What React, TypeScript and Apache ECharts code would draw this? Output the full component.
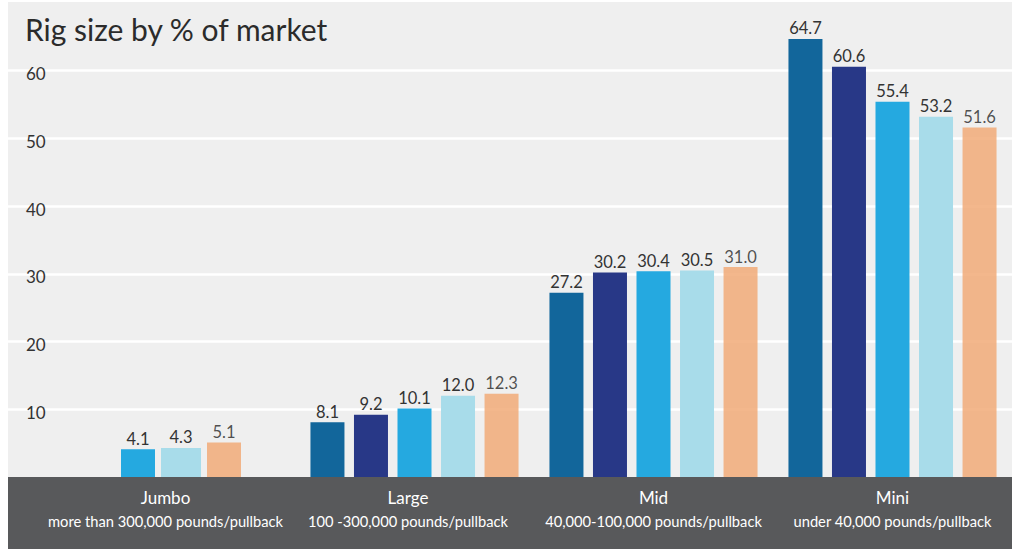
import React, { useEffect, useRef } from "react";
import * as echarts from "echarts";

const title = "Rig size by % of market";
const categories = ["Jumbo", "Large", "Mid", "Mini"];
const categorySubtitles = [
  "more than 300,000 pounds/pullback",
  "100 -300,000 pounds/pullback",
  "40,000-100,000 pounds/pullback",
  "under 40,000 pounds/pullback",
];
const series1 = [null, 8.1, 27.2, 64.7];
const series2 = [null, 9.2, 30.2, 60.6];
const series3 = [4.1, 10.1, 30.4, 55.4];
const series4 = [4.3, 12.0, 30.5, 53.2];
const series5 = [5.1, 12.3, 31.0, 51.6];
const yTickLabels = [10, 20, 30, 40, 50, 60];

const seriesList = [
  { name: "Series 1", data: series1, color: "#12669b", opacity: 1 },
  { name: "Series 2", data: series2, color: "#283887", opacity: 1 },
  { name: "Series 3", data: series3, color: "#25a9e0", opacity: 1 },
  { name: "Series 4", data: series4, color: "#a8dcea", opacity: 1 },
  { name: "Series 5", data: series5, color: "#f1aa78", opacity: 0.85 },
];

const FONT = "Lato";

export default function App() {
  const ref = useRef<HTMLDivElement>(null);
  useEffect(() => {
    if (!ref.current) return;
    const chart = echarts.init(ref.current, null, { renderer: "svg" });
    const labelCfg = {
      show: true,
      position: "top",
      distance: 2,
      fontFamily: FONT,
      fontSize: 16.5,
      color: "#333",
      formatter: (p: any) => Number(p.value).toFixed(1),
    };
    const yBase = {
      type: "value",
      min: 0,
      max: 70,
      interval: 10,
    };
    const mainSeries = seriesList.map((s) => ({
      name: s.name,
      type: "bar",
      xAxisIndex: 1,
      yAxisIndex: 1,
      barWidth: 34,
      barGap: "28%",
      data: s.data.map((v, i) => (i === 0 ? null : v)),
      itemStyle: { color: s.color, opacity: s.opacity },
      label: labelCfg,
    }));
    const jumboSeries = seriesList
      .filter((s) => s.data[0] !== null)
      .map((s) => ({
        name: s.name,
        type: "bar",
        xAxisIndex: 2,
        yAxisIndex: 2,
        barWidth: 40,
        barGap: "15%",
        data: [s.data[0]],
        itemStyle: { color: s.color, opacity: s.opacity },
        label: labelCfg,
      }));
    const option: any = {
      animation: false,
      backgroundColor: "#efefef",
      title: {
        text: title,
        left: 12,
        top: 7,
        textStyle: {
          fontFamily: FONT,
          fontSize: 30,
          fontWeight: "normal",
          color: "#2b2b2b",
        },
      },
      grid: [
        { left: 0, right: 0, top: 1, bottom: 72 },
        { left: 48, right: 0, top: 1, bottom: 72 },
        { left: 113, width: 120, top: 1, bottom: 72 },
      ],
      xAxis: [
        { type: "category", gridIndex: 0, data: categories, show: false },
        {
          type: "category",
          gridIndex: 1,
          data: categories.map((c, i) => ({
            value: c,
            textStyle: { padding: i === 0 ? [0, 20, 0, 0] : i === 1 ? [0, 13, 0, 0] : 0 },
          })),
          axisLine: { show: false },
          axisTick: { show: false },
          axisLabel: {
            margin: 7,
            interval: 0,
            formatter: (v: string, i: number) => `{a|${v}}\n{b|${categorySubtitles[i]}}`,
            rich: {
              a: { fontFamily: FONT, fontSize: 17, color: "#ffffff", lineHeight: 26 },
              b: { fontFamily: FONT, fontSize: 14.7, color: "#ffffff", lineHeight: 22 },
            },
          },
        },
        { type: "category", gridIndex: 2, data: [categories[0]], show: false },
      ],
      yAxis: [
        {
          ...yBase,
          gridIndex: 0,
          axisLine: { show: false },
          axisTick: { show: false },
          axisLabel: {
            inside: true,
            margin: 18,
            fontFamily: FONT,
            fontSize: 17,
            color: "#333",
            verticalAlign: "top",
            lineHeight: 6,
            formatter: (v: number) => (yTickLabels.includes(v) ? String(v) : ""),
          },
          splitLine: {
            show: true,
            showMinLine: false,
            showMaxLine: false,
            lineStyle: { color: "#ffffff", width: 2.5 },
          },
        },
        { ...yBase, gridIndex: 1, show: false, splitLine: { show: false } },
        { ...yBase, gridIndex: 2, show: false, splitLine: { show: false } },
      ],
      graphic: [
        {
          type: "rect",
          z: -1,
          shape: { x: 0, y: 475, width: 1004, height: 72 },
          style: { fill: "#58595b" },
        },
      ],
      series: [...mainSeries, ...jumboSeries],
    };
    chart.setOption(option);
    return () => chart.dispose();
  }, []);
  return (
    <div
      ref={ref}
      style={{ position: "fixed", left: 8, top: 2, width: 1004, height: 547 }}
    />
  );
}
